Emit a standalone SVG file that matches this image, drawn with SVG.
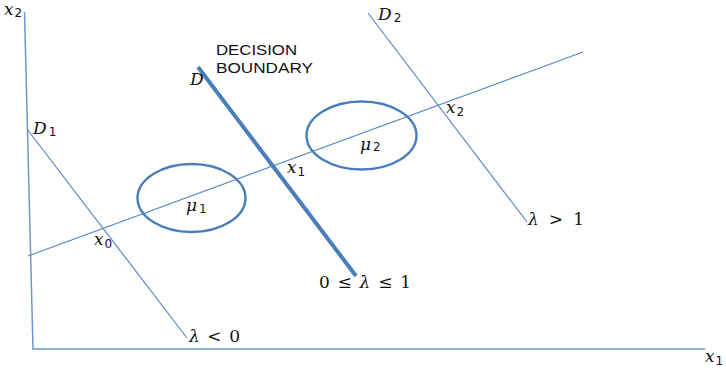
<svg xmlns="http://www.w3.org/2000/svg" width="726" height="370" viewBox="0 0 726 370">
<style>
.thin{stroke:#5b89c4;stroke-width:1.2;fill:none}
.axis{stroke:#6f97c9;stroke-width:1.5;fill:none}
.thick{stroke:#4a7ebb;stroke-width:4;fill:none}
.ell{stroke:#4a7ebb;stroke-width:2.4;fill:none}
.m{font-family:"DejaVu Serif","Liberation Serif",serif;font-style:italic;font-size:17px;fill:#111}
.s{font-family:"DejaVu Sans","Liberation Sans",sans-serif;font-style:normal;font-size:12px;fill:#111}
.r{font-family:"DejaVu Serif","Liberation Serif",serif;font-size:17px;fill:#111}
.lbl{font-family:"Liberation Sans",Arial,sans-serif;font-size:15px;fill:#111}
</style>
<rect width="726" height="370" fill="#fff"/>
<g id="connectors">
<path class="axis" d="M24.5,12 L33,349 L705,349"/>
<path class="thin" d="M28,256 L583,52"/>
<path class="thin" d="M27,129 L187,338"/>
<path class="thin" d="M368,13 L527,222"/>
<path class="thick" d="M198,67 L356,276"/>
</g>
<g id="ellipse-mu1"><ellipse class="ell" cx="191.5" cy="198" rx="54" ry="34"/><text class="m" x="186" y="211">μ<tspan class="s" dx="2" dy="2">1</tspan></text></g>
<g id="ellipse-mu2"><ellipse class="ell" cx="361.5" cy="135.5" rx="55" ry="34"/><text class="m" x="360" y="150">μ<tspan class="s" dx="2" dy="1">2</tspan></text></g>
<g id="label-x2-axis"><text class="m" x="4" y="15">x<tspan class="s" dx="1" dy="2">2</tspan></text></g>
<g id="label-x1-axis"><text class="m" x="705" y="362">x<tspan class="s" dx="1" dy="3">1</tspan></text></g>
<g id="label-D1"><text class="m" x="33" y="134">D<tspan class="s" dx="2" dy="2">1</tspan></text></g>
<g id="label-D2"><text class="m" x="378" y="20">D<tspan class="s" dx="2" dy="2">2</tspan></text></g>
<g id="label-D"><text class="m" x="190" y="85">D</text></g>
<g id="label-decision"><text class="lbl" x="216" y="55" textLength="81" lengthAdjust="spacingAndGlyphs">DECISION</text><text class="lbl" x="216" y="73" textLength="97" lengthAdjust="spacingAndGlyphs">BOUNDARY</text></g>
<g id="label-x0"><text class="m" x="94" y="245">x<tspan class="s" dx="1" dy="3">0</tspan></text></g>
<g id="label-x1"><text class="m" x="287" y="173">x<tspan class="s" dx="1" dy="3">1</tspan></text></g>
<g id="label-x2"><text class="m" x="446" y="113">x<tspan class="s" dx="1" dy="3">2</tspan></text></g>
<g id="label-gt1"><text class="r" x="528" y="225" textLength="56" lengthAdjust="spacing"><tspan font-style="italic">λ</tspan> &gt; 1</text></g>
<g id="label-between"><text class="r" x="319" y="288" textLength="92" lengthAdjust="spacing">0 ≤ <tspan font-style="italic">λ</tspan> ≤ 1</text></g>
<g id="label-lt0"><text class="r" x="189" y="342" textLength="51" lengthAdjust="spacing"><tspan font-style="italic">λ</tspan> &lt; 0</text></g>
</svg>
